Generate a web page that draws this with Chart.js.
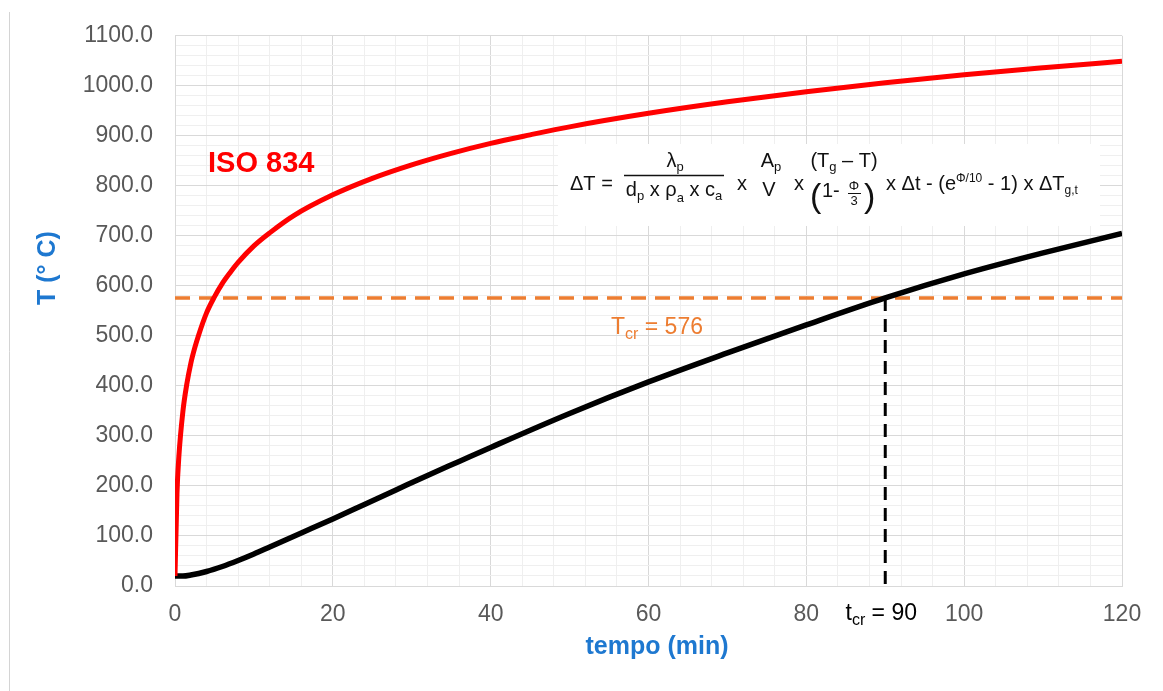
<!DOCTYPE html>
<html><head><meta charset="utf-8">
<script src="https://cdn.jsdelivr.net/npm/chart.js@4.4.1/dist/chart.umd.min.js"></script>
<style>
html,body{margin:0;padding:0;background:#fff;}
canvas{display:block;}
</style></head><body>
<canvas id="c" width="1163" height="691"></canvas>
<script>
// ---- data ----
const isoTime  = [0,0.25,0.5,1,1.5,2,2.5,3,4,5,6,7,8,10,12,15,20,25,30,35,40,45,50,60,70,80,90,100,110,120];
const isoTemp  = [20,185,261,349,404,445,476,502,546,578,605,627,647,680,706,740,782,815,842,865,885,902,918,945,968,988,1006,1022,1036,1049];
const steelTime = [0,1,2,4,6,8,10,12,16,20,24,28,32,36,40,50,60,70,80,90,100,110,120];
const steelTemp = [20,20,22,29,39,51,64,78,106,134,163,192,221,249,277,345,408,466,522,576,624,666,705];
const criticalTemp = [576];   // T_cr
const criticalTime = [90];    // t_cr
const yTickValues = [0,100,200,300,400,500,600,700,800,900,1000,1100];
const yTickLabels = ['0.0','100.0','200.0','300.0','400.0','500.0','600.0','700.0','800.0','900.0','1000.0','1100.0'];
const xTickValues = [0,20,40,60,80,100,120];
const xTickLabels = ['0','20','40','60','80','100','120'];
const seriesLabels = ['ISO 834','Acciaio'];
const xTitle = 'tempo (min)';
const yTitle = 'T (° C)';

const FONT = '"Liberation Sans", Arial, Helvetica, sans-serif';
const toPts = (xs, ys) => xs.map((x, i) => ({x, y: ys[i]}));

function drawParts(ctx, parts, x, y, align) {
  let w = 0;
  for (const p of parts) { ctx.font = (p[3] || '') + ' ' + p[1] + 'px ' + FONT; w += ctx.measureText(p[0]).width; }
  let cx = align === 'center' ? x - w / 2 : (align === 'right' ? x - w : x);
  ctx.textAlign = 'left';
  ctx.textBaseline = 'alphabetic';
  for (const p of parts) {
    ctx.font = (p[3] || '') + ' ' + p[1] + 'px ' + FONT;
    ctx.fillText(p[0], cx, y + (p[2] || 0));
    cx += ctx.measureText(p[0]).width;
  }
  return w;
}

const annotations = {
  id: 'annotations',
  beforeDraw(chart) {
    const ctx = chart.ctx;
    ctx.save();
    ctx.fillStyle = '#fff';
    ctx.fillRect(0, 0, chart.width, chart.height);
    ctx.restore();
  },
  beforeDatasetsDraw(chart) {
    const ctx = chart.ctx;
    ctx.save();
    ctx.fillStyle = '#ffffff';
    ctx.fillRect(558, 144, 542, 82);
    ctx.restore();
  },
  afterDraw(chart) {
    const ctx = chart.ctx;
    const xs = chart.scales.x;
    ctx.save();
    // outer frame line
    ctx.strokeStyle = '#d4d4d4'; ctx.lineWidth = 1;
    ctx.beginPath(); ctx.moveTo(9.5, 12); ctx.lineTo(9.5, 691); ctx.stroke();

    // axis titles
    ctx.fillStyle = '#1e78d0';
    ctx.font = 'bold 25px ' + FONT;
    ctx.textAlign = 'center'; ctx.textBaseline = 'middle';
    ctx.fillText(xTitle, 657, 647);
    ctx.save();
    ctx.translate(48, 268); ctx.rotate(-Math.PI / 2);
    ctx.fillText(yTitle, 0, 0);
    ctx.restore();

    // ISO 834 label
    ctx.fillStyle = '#ff0000';
    drawParts(ctx, [[seriesLabels[0], 29, 0, 'bold']], 208, 172, 'left');

    // T_cr label
    ctx.fillStyle = '#ed7d31';
    drawParts(ctx, [['T', 23], ['cr', 16, 5], [' = ' + criticalTemp[0], 23]], 611, 334, 'left');

    // t_cr label on axis
    ctx.fillStyle = '#000';
    drawParts(ctx, [['t', 23], ['cr', 16, 5], [' = ' + criticalTime[0], 23]], xs.getPixelForValue(criticalTime[0]) - 4, 620, 'center');

    // formula
    ctx.fillStyle = '#111'; ctx.strokeStyle = '#111';
    const base = 190;
    drawParts(ctx, [['ΔT =', 20]], 570, base, 'left');
    drawParts(ctx, [['λ', 20], ['p', 13, 4]], 675, 167, 'center');
    ctx.lineWidth = 1.3;
    ctx.beginPath(); ctx.moveTo(624, 175.5); ctx.lineTo(724, 175.5); ctx.stroke();
    drawParts(ctx, [['d', 20], ['p', 13, 4], [' x ', 20], ['ρ', 20], ['a', 13, 6], [' x ', 20], ['c', 20], ['a', 13, 4]], 674, 196, 'center');
    drawParts(ctx, [['x', 20]], 737, base, 'left');
    drawParts(ctx, [['A', 20], ['p', 13, 4]], 771, 167, 'center');
    drawParts(ctx, [['V', 20]], 769, 196, 'center');
    drawParts(ctx, [['x', 20]], 794, base, 'left');
    drawParts(ctx, [['(T', 20], ['g', 13, 4], [' – T)', 20]], 844, 167, 'center');
    drawParts(ctx, [['(', 34]], 810, 207, 'left');
    drawParts(ctx, [['1- ', 20]], 822, 197, 'left');
    drawParts(ctx, [['Φ', 13]], 854, 190, 'center');
    ctx.lineWidth = 1;
    ctx.beginPath(); ctx.moveTo(848, 193.5); ctx.lineTo(861, 193.5); ctx.stroke();
    drawParts(ctx, [['3', 13]], 854, 205, 'center');
    drawParts(ctx, [[')', 34]], 864, 207, 'left');
    drawParts(ctx, [['x Δt - (e', 20], ['Φ/10', 12, -8], [' - 1) x ΔT', 20], ['g,t', 12, 4]], 886, base, 'left');
    ctx.restore();
  }
};

const majorGrid = '#d9d9d9', minorGrid = '#efefef';

new Chart(document.getElementById('c'), {
  type: 'line',
  data: {
    datasets: [
      { label: seriesLabels[0], data: toPts(isoTime, isoTemp), borderColor: '#ff0000', borderWidth: 5,
        pointRadius: 0, cubicInterpolationMode: 'monotone', fill: false },
      { label: seriesLabels[1], data: toPts(steelTime, steelTemp), borderColor: '#000000', borderWidth: 5.5,
        pointRadius: 0, cubicInterpolationMode: 'monotone', fill: false },
      { label: 'Tcr', data: [{x: xTickValues[0], y: criticalTemp[0]}, {x: xTickValues[xTickValues.length - 1], y: criticalTemp[0]}],
        borderColor: '#ed7d31', borderWidth: 3.5, borderDash: [15, 9], pointRadius: 0, fill: false },
      { label: 'tcr', data: [{x: criticalTime[0], y: criticalTemp[0]}, {x: criticalTime[0], y: yTickValues[0]}],
        borderColor: '#000000', borderWidth: 3, borderDash: [13, 8], pointRadius: 0, fill: false }
    ]
  },
  options: {
    responsive: false,
    animation: false,
    devicePixelRatio: 1,
    layout: { padding: { top: 35, right: 41, left: 0, bottom: 0 } },
    plugins: { legend: { display: false }, tooltip: { enabled: false } },
    scales: {
      x: {
        type: 'linear', min: 0, max: 120,
        afterFit(s) { s.height = 105; },
        border: { display: true, color: majorGrid, width: 1 },
        grid: { drawTicks: false, color: c => (c.tick && c.tick.value % 20 === 0) ? majorGrid : minorGrid, lineWidth: 1 },
        ticks: {
          stepSize: 4, autoSkip: false, maxRotation: 0, padding: 15, color: '#595959',
          font: { family: FONT, size: 23 },
          callback: v => { const i = xTickValues.indexOf(v); return i >= 0 ? xTickLabels[i] : ''; }
        }
      },
      y: {
        type: 'linear', min: 0, max: 1100,
        afterFit(s) { s.width = 175; },
        border: { display: true, color: majorGrid, width: 1 },
        grid: { drawTicks: false, color: c => (c.tick && c.tick.value % 100 === 0) ? majorGrid : minorGrid, lineWidth: 1 },
        ticks: {
          stepSize: 20, autoSkip: false, padding: 22, color: '#595959',
          font: { family: FONT, size: 23 },
          callback: v => { const i = yTickValues.indexOf(v); return i >= 0 ? yTickLabels[i] : ''; }
        }
      }
    }
  },
  plugins: [annotations]
});
</script>
</body></html>
